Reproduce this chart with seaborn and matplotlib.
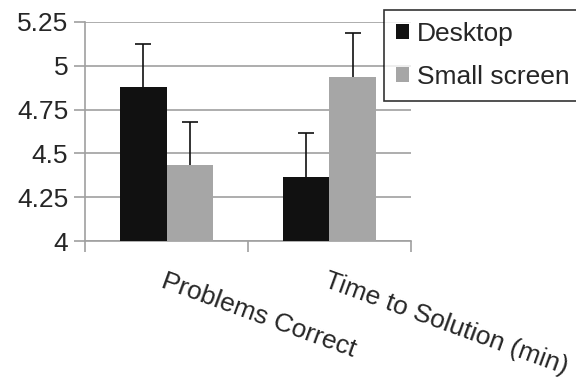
import pandas as pd
import numpy as np
import matplotlib
matplotlib.use('Agg')
import matplotlib.pyplot as plt
import seaborn as sns

measures = ['Problems Correct', 'Time to Solution (min)']
devices = ['Desktop', 'Small screen']
desktop_means = [4.88, 4.365]
small_means = [4.435, 4.935]
desktop_err = [0.245, 0.25]
small_err = [0.245, 0.25]

df = pd.DataFrame({
    'Measure': measures * 2,
    'Device': [devices[0]] * 2 + [devices[1]] * 2,
    'Mean': desktop_means + small_means,
    'Err': desktop_err + small_err,
})

sns.set_style('white')
plt.rcParams['font.family'] = ['Liberation Sans', 'DejaVu Sans']

fig = plt.figure(figsize=(5.76, 3.79), dpi=100)
ax = fig.add_axes([0.1476, 0.364, 0.5659, 0.578])

palette = {'Desktop': '#111111', 'Small screen': '#a6a6a6'}
sns.barplot(data=df, x='Measure', y='Mean', hue='Device', order=measures,
            hue_order=devices, palette=palette, width=0.565, errorbar=None,
            saturation=1, linewidth=0, ax=ax, zorder=3)

# error bars at the bar centres; the small screen ones sit behind their bars
for cont, dev in zip(ax.containers, devices):
    sub = df[df['Device'] == dev].set_index('Measure').loc[measures]
    xs = [p.get_x() + p.get_width() / 2 for p in cont.patches]
    z = 4 if dev == 'Desktop' else 2.5
    ax.errorbar(xs, sub['Mean'].values, yerr=sub['Err'].values, fmt='none',
                ecolor='#111111', elinewidth=1.2, capsize=5.5, capthick=1.2, zorder=z)

ax.set_ylim(4, 5.25)
ax.set_xlim(-0.5, 1.5)
ax.set_yticks(np.arange(4, 5.26, 0.25))
ax.set_yticklabels(['4', '4.25', '4.5', '4.75', '5', '5.25'])
ax.yaxis.grid(True, color='#a0a0a0', linewidth=1.2, zorder=0)
ax.set_axisbelow(True)
for s in ['top', 'right']:
    ax.spines[s].set_visible(False)
for s in ['left', 'bottom']:
    ax.spines[s].set_color('#a0a0a0')
    ax.spines[s].set_linewidth(1.2)
ax.tick_params(axis='y', length=8, width=1.2, color='#a0a0a0', labelsize=19, pad=4, left=True)
ax.set_xticks([-0.5, 0.5, 1.5], minor=True)
ax.tick_params(axis='x', which='minor', length=8, width=1.2, color='#a0a0a0', bottom=True)
ax.tick_params(axis='x', which='major', length=0, pad=20)
ax.set_xticks([0, 1])
ax.set_xticklabels(measures, rotation=-20, ha='left', va='top', rotation_mode='anchor', fontsize=19)
ax.set_xlabel('')
ax.set_ylabel('')

ax.legend_.remove()
handles, labels = ax.get_legend_handles_labels()
leg = fig.legend(handles, labels, loc='upper left', bbox_to_anchor=(384 / 576, 1 - 10 / 379),
                 fontsize=19, frameon=True, fancybox=False, edgecolor='black',
                 handlelength=0.5, handleheight=0.5, handletextpad=0.3,
                 labelspacing=0.72, borderpad=0.45, borderaxespad=0)
leg.get_frame().set_linewidth(1.2)

fig.savefig('out.png', dpi=100)
